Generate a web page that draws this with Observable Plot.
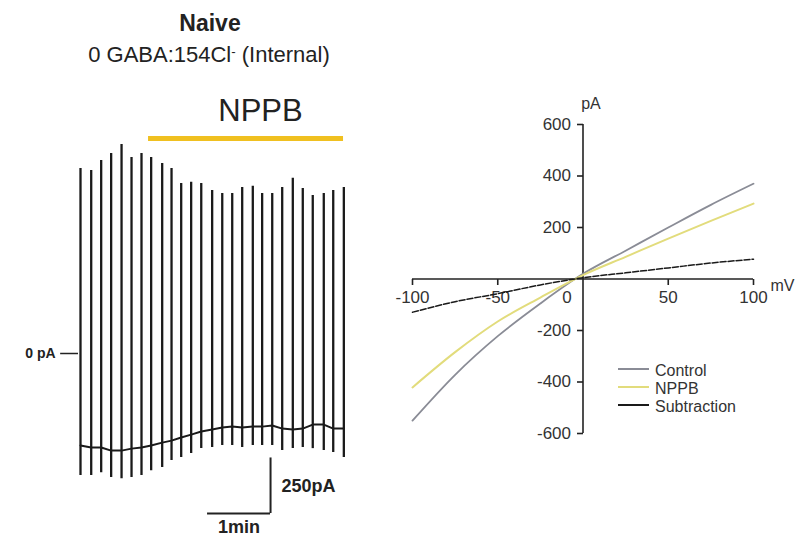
<!DOCTYPE html>
<html>
<head>
<meta charset="utf-8">
<script src="https://cdn.jsdelivr.net/npm/d3@7"></script>
<script src="https://cdn.jsdelivr.net/npm/@observablehq/plot@0.6"></script>
<style>
  html, body { margin: 0; padding: 0; background: #fff; }
  #wrap { position: relative; width: 801px; height: 539px; overflow: hidden;
          font-family: "Liberation Sans", Arial, sans-serif; color: #222; }
  #wrap > svg { position: absolute; left: 0; top: 0; }
  .t { position: absolute; line-height: 1; white-space: nowrap; transform: translateX(-50%); }
</style>
</head>
<body>
<div id="wrap">
  <div class="t" style="left:210px; top:12px; font-size:23px; font-weight:bold;">Naive</div>
  <div class="t" style="left:209px; top:44px; font-size:22px;">0 GABA:154Cl<span style="font-size:0.6em; vertical-align:0.45em;">-</span> (Internal)</div>
</div>
<script>
// ---------- Left panel: ramp-current trace (time in s, current in pA) ----------
const spikeTime   = [1.9, 12.1, 21.6, 31.1, 41.0, 50.5, 60.0, 69.2, 79.7, 88.6, 97.8, 107.3, 116.9, 127.3,
                     136.9, 146.4, 155.9, 166.0, 174.9, 184.5, 194.0, 204.1, 213.6, 223.1, 233.6, 242.6, 252.7];
const spikePeak   = [832, 823, 868, 900, 940, 882, 900, 882, 855, 832, 765, 770, 765, 733,
                     720, 720, 747, 752, 720, 720, 747, 788, 742, 711, 720, 733, 747];
const spikeTrough = [-549, -549, -536, -558, -563, -558, -549, -527, -513, -482, -468, -450, -428, -423,
                     -414, -414, -423, -414, -414, -414, -437, -428, -423, -428, -437, -446, -468];
const spikeBase   = [-414, -423, -423, -437, -437, -428, -423, -414, -401, -392, -378, -365, -351, -342,
                     -333, -329, -333, -329, -329, -324, -338, -342, -338, -320, -320, -338, -338];
const nppbOn = 66.7, nppbOff = 252.4;       // drug application period (s)
const scaleTime = 60, scaleCurrent = 250;   // scale bar: 1 min, 250 pA

// ---------- Right panel: I-V relation ----------
const voltages    = [-100, -75, -50, -25, 0, 25, 50, 75, 100];
const control     = [-550, -372, -222, -95, 20, 110, 200, 288, 370];
const nppb        = [-421, -284, -165, -72, 15, 86, 157, 226, 293];
const subtraction = [-129, -88, -57, -23, 5, 24, 43, 62, 77];
const seriesNames  = ["Control", "NPPB", "Subtraction"];
const seriesColors = ["#8a8c96", "#e2dc7c", "#1a1a1a"];
const xTicks = [-100, -50, 0, 50, 100];
const yTicks = [-600, -400, -200, 0, 200, 400, 600];

const FONT = "Liberation Sans, Arial, sans-serif";
const wrap = document.getElementById("wrap");

// Left plot
const spikes = spikeTime.map((t, i) => ({t, peak: spikePeak[i], trough: spikeTrough[i], base: spikeBase[i]}));
const barT = 182.9, barPA = -720, nppbLevel = 967;
const left = Plot.plot({
  width: 801, height: 539,
  x: {domain: [-30, 270], range: [46.5, 361.5], axis: null},
  y: {domain: [-800, 1200], range: [530.8, 86.3], axis: null},
  style: {background: "transparent", fontFamily: FONT, overflow: "visible"},
  marks: [
    Plot.line(spikes, {x: "t", y: "base", stroke: "#1a1a1a", strokeWidth: 2}),
    Plot.ruleX(spikes, {x: "t", y1: "trough", y2: "peak", stroke: "#1a1a1a", strokeWidth: 2.3}),
    Plot.ruleY([nppbLevel], {x1: nppbOn, x2: nppbOff, stroke: "#f0c020", strokeWidth: 5}),
    Plot.text(["NPPB"], {x: 173.3, y: 1089, fontSize: 31, fill: "#222"}),
    Plot.ruleY([0], {x1: -17, x2: 0, stroke: "#222", strokeWidth: 1.5}),
    Plot.text(["0 pA"], {x: -17, y: 0, dx: -5, textAnchor: "end", fontSize: 14, fontWeight: "bold", fill: "#222"}),
    Plot.ruleX([barT], {y1: barPA, y2: barPA + scaleCurrent, stroke: "#222", strokeWidth: 2}),
    Plot.ruleY([barPA], {x1: barT - scaleTime, x2: barT, stroke: "#222", strokeWidth: 2}),
    Plot.text([scaleCurrent + "pA"], {x: barT, y: barPA + scaleCurrent / 2, dx: 11, textAnchor: "start",
      fontSize: 18, fontWeight: "bold", fill: "#222"}),
    Plot.text(["1min"], {x: barT - scaleTime / 2, y: barPA, dy: 14, fontSize: 18, fontWeight: "bold", fill: "#222"})
  ]
});
wrap.appendChild(left);

// Right plot
const iv = [];
voltages.forEach((v, i) => {
  iv.push({mV: v, pA: control[i], s: "Control"});
  iv.push({mV: v, pA: nppb[i], s: "NPPB"});
  iv.push({mV: v, pA: subtraction[i], s: "Subtraction"});
});
const tickDown = {draw(ctx) { ctx.moveTo(0, 0); ctx.lineTo(0, 6); }};
const tickLeft = {draw(ctx) { ctx.moveTo(0, 0); ctx.lineTo(-6, 0); }};
const right = Plot.plot({
  width: 801, height: 539,
  x: {domain: [-100, 100], range: [412, 753], axis: null},
  y: {domain: [-600, 600], range: [433, 124], axis: null},
  style: {background: "transparent", fontFamily: FONT, overflow: "visible"},
  marks: [
    Plot.ruleY([0], {x1: -100, x2: 100, stroke: "#222", strokeWidth: 1.6}),
    Plot.ruleX([0], {y1: -600, y2: 600, stroke: "#222", strokeWidth: 1.6}),
    Plot.dot(xTicks.filter(v => v !== 0), {x: d => d, y: () => 0, symbol: tickDown, fill: "none", stroke: "#222", strokeWidth: 1.6}),
    Plot.dot(yTicks.filter(v => v !== 0), {x: () => 0, y: d => d, symbol: tickLeft, fill: "none", stroke: "#222", strokeWidth: 1.6}),
    Plot.text(xTicks.filter(v => v !== 0), {x: d => d, y: () => 0, dy: 19, text: d => String(d), fontSize: 17, fill: "#333"}),
    Plot.text([0], {x: d => d, y: () => 0, dx: -16, dy: 19, text: d => String(d), fontSize: 17, fill: "#333"}),
    Plot.text(yTicks.filter(v => v !== 0), {x: () => 0, y: d => d, dx: -12, textAnchor: "end", text: d => String(d), fontSize: 17, fill: "#333"}),
    Plot.text(["pA"], {x: () => 0, y: () => 600, dx: 8, dy: -21, fontSize: 16, fill: "#333"}),
    Plot.text(["mV"], {x: () => 100, y: () => 0, dx: 17, dy: 7, textAnchor: "start", fontSize: 16, fill: "#333"}),
    Plot.line(iv.filter(d => d.s === "Control"), {x: "mV", y: "pA", stroke: seriesColors[0], strokeWidth: 1.8, curve: "monotone-x"}),
    Plot.line(iv.filter(d => d.s === "NPPB"), {x: "mV", y: "pA", stroke: seriesColors[1], strokeWidth: 2, curve: "monotone-x"}),
    Plot.line(iv.filter(d => d.s === "Subtraction"), {x: "mV", y: "pA", stroke: seriesColors[2], strokeWidth: 1.5, strokeDasharray: "6,2", curve: "monotone-x"})
  ]
});
wrap.appendChild(right);

// Legend
const leg = d3.create("svg").attr("width", 801).attr("height", 539)
  .style("position", "absolute").style("left", 0).style("top", 0);
const rowY = [370, 388, 406];
seriesNames.forEach((name, i) => {
  leg.append("line").attr("x1", 618).attr("x2", 649).attr("y1", rowY[i] - 1).attr("y2", rowY[i] - 1)
    .attr("stroke", seriesColors[i]).attr("stroke-width", 2);
  leg.append("text").attr("x", 655).attr("y", rowY[i]).attr("dy", "0.35em")
    .attr("font-family", FONT).attr("font-size", 16).attr("fill", "#333").text(name);
});
wrap.appendChild(leg.node());
</script>
</body>
</html>
